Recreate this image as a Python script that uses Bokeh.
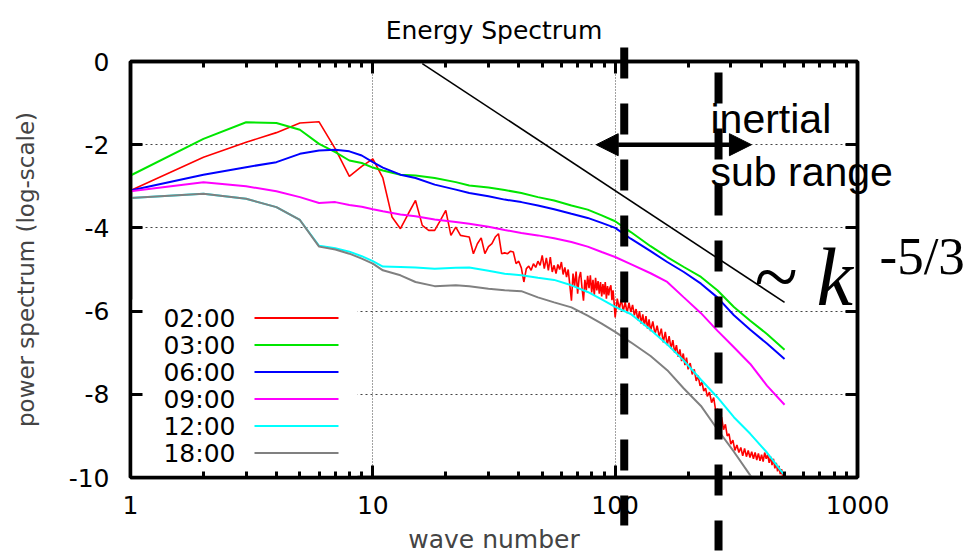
from bokeh.plotting import figure
from bokeh.models import (Range1d, LogAxis, LinearAxis, FixedTicker, LogTicker, Label,
                          Arrow, NormalHead, BoxAnnotation, BasicTickFormatter)
from bokeh.core.properties import value
from bokeh.embed import file_html
from bokeh.resources import INLINE

# ---------------- data ----------------
wave_k = [1, 2, 3, 4, 5, 6, 7, 8, 9, 10, 11, 13, 15, 18, 22, 25, 30, 35, 41, 48, 56, 66,
          77, 88, 100, 116, 140, 164, 192, 226, 264, 309, 361, 423, 500]

spec_0300 = [-2.74, -1.86, -1.46, -1.48, -1.64, -1.98, -2.18, -2.38, -2.44, -2.55, -2.62,
             -2.72, -2.74, -2.80, -2.90, -2.98, -3.03, -3.09, -3.16, -3.26, -3.34, -3.46,
             -3.56, -3.70, -3.84, -4.10, -4.44, -4.70, -4.94, -5.18, -5.50, -5.90, -6.23,
             -6.55, -6.93]
spec_0600 = [-3.10, -2.72, -2.54, -2.42, -2.22, -2.14, -2.12, -2.16, -2.26, -2.42, -2.55,
             -2.72, -2.80, -2.96, -3.08, -3.16, -3.24, -3.32, -3.38, -3.46, -3.55, -3.66,
             -3.76, -3.88, -4.00, -4.26, -4.56, -4.82, -5.06, -5.34, -5.67, -6.10, -6.45,
             -6.78, -7.15]
spec_0900 = [-3.12, -2.90, -3.00, -3.12, -3.26, -3.40, -3.38, -3.45, -3.49, -3.55, -3.60,
             -3.68, -3.72, -3.80, -3.86, -3.90, -3.97, -4.05, -4.12, -4.18, -4.25, -4.34,
             -4.45, -4.58, -4.70, -4.87, -5.09, -5.30, -5.67, -6.05, -6.47, -6.87, -7.27,
             -7.79, -8.25]
spec_1200 = [-3.28, -3.18, -3.30, -3.50, -3.81, -4.43, -4.49, -4.57, -4.68, -4.80, -4.93,
             -4.94, -4.95, -4.98, -4.96, -4.95, -5.03, -5.10, -5.14, -5.20, -5.25, -5.38,
             -5.54, -5.72, -5.90, -6.07, -6.45, -6.80, -7.19, -7.65, -8.07, -8.55, -8.95,
             -9.40, -9.95]
spec_1800 = [-3.28, -3.18, -3.30, -3.50, -3.81, -4.45, -4.52, -4.62, -4.74, -4.86, -5.02,
             -5.14, -5.30, -5.40, -5.38, -5.40, -5.46, -5.50, -5.52, -5.67, -5.79, -5.91,
             -6.11, -6.30, -6.50, -6.75, -7.08, -7.42, -7.86, -8.28, -8.84, -9.38, -9.95,
             -10.5, -11.0]

red_k = [1, 2, 3, 4, 5, 6, 7, 8, 9, 10, 11, 12, 13, 14, 15, 16, 17, 18, 19, 20, 21, 22, 23,
         24, 25, 26, 27, 28, 29, 30, 31, 32, 33, 34, 35, 36, 37, 38, 39, 40, 41, 42, 43, 44,
         45, 46, 47, 48, 49, 50, 51, 52, 53, 54, 55, 56, 57, 58, 59, 60, 61, 62, 63, 64, 66,
         67, 68, 69, 70, 71, 72, 73, 74, 75, 76, 77, 78, 79, 80, 81, 82, 83, 84, 85, 86, 87,
         88, 89, 90, 91, 92, 93, 94, 95, 96, 97, 98, 99, 100, 102, 104, 106, 108, 110, 112,
         114, 116, 118, 120, 122, 124, 126, 128, 130, 132, 134, 136, 138, 140, 143, 146, 149,
         152, 155, 158, 161, 164, 167, 170, 173, 176, 179, 182, 185, 188, 191, 194, 197, 200,
         204, 208, 212, 216, 220, 224, 228, 232, 236, 240, 245, 250, 255, 260, 265, 270, 275,
         280, 285, 290, 295, 300, 306, 312, 318, 324, 330, 336, 342, 348, 354, 360, 366, 372,
         378, 384, 390, 396, 402, 408, 414, 420, 426, 432, 438, 444, 450, 456, 462, 468, 474,
         480, 486, 492, 500]
spec_0200 = [-3.10, -2.30, -1.94, -1.71, -1.48, -1.45, -2.10, -2.76, -2.52, -2.34, -2.80,
             -3.74, -4.02, -3.66, -3.34, -3.94, -4.06, -4.06, -3.82, -3.58, -4.18, -3.98,
             -4.18, -4.20, -4.22, -4.62, -4.38, -4.24, -4.62, -4.45, -4.38, -4.22, -4.14,
             -4.62, -4.60, -4.62, -4.56, -4.58, -4.86, -4.80, -4.96, -5.30, -4.98, -4.92,
             -5.02, -4.86, -4.95, -4.80, -4.90, -4.66, -4.98, -4.72, -5.02, -4.70, -5.06,
             -4.90, -5.10, -4.88, -5.00, -4.82, -5.12, -4.95, -5.18, -5.00, -5.75, -5.10,
             -5.40, -5.05, -5.58, -5.20, -5.06, -5.45, -5.75, -5.25, -5.50, -5.15, -5.45,
             -5.14, -5.55, -5.25, -5.62, -5.20, -5.50, -5.28, -5.58, -5.30, -5.65, -5.35,
             -5.60, -5.30, -5.70, -5.40, -5.62, -5.45, -5.38, -5.74, -5.50, -5.80, -6.15,
             -5.70, -5.95, -5.72, -6.00, -5.78, -6.05, -5.80, -6.02, -5.85, -6.10, -5.95,
             -6.22, -6.00, -6.30, -6.08, -6.35, -6.12, -6.42, -6.20, -6.48, -6.25, -6.55,
             -6.35, -6.62, -6.42, -6.75, -6.50, -6.82, -6.60, -6.90, -6.70, -7.00, -6.82,
             -7.10, -6.92, -7.20, -7.02, -7.30, -7.12, -7.40, -7.25, -7.52, -7.40, -7.68,
             -7.55, -7.80, -7.70, -7.92, -7.85, -8.05, -7.95, -8.20, -8.08, -8.40, -8.35,
             -8.62, -8.55, -8.85, -8.72, -9.00, -8.95, -9.20, -9.10, -9.35, -9.22, -9.40,
             -9.28, -9.48, -9.30, -9.50, -9.35, -9.52, -9.38, -9.55, -9.40, -9.58, -9.42,
             -9.60, -9.45, -9.62, -9.40, -9.55, -9.45, -9.65, -9.50, -9.70, -9.55, -9.78,
             -9.65, -9.85, -9.72, -9.92, -9.80, -10.0, -9.95]

ref_k = [16, 500]            # k^(-5/3) guide line
ref_v = [-0.05, -5.79]

series_labels = ["02:00", "03:00", "06:00", "09:00", "12:00", "18:00"]
series_colors = ["#ff0000", "#00e600", "#0000ff", "#ff00ff", "#00ffff", "#808080"]

y_ticks = [-10, -8, -6, -4, -2, 0]
y_tick_labels = ["-10", "-8", "-6", "-4", "-2", "0"]

subrange_bounds = [109, 267]     # vertical dashed lines (wave number)
subrange_arrow = [83.5, 365]     # double arrow extent (wave number)
arrow_level = -2

# ---------------- layout helpers (canvas px -> data coords for annotations) ----------
FL, FR, FT, FB = 130, 857, 61, 477


def kx(px):
    return 10 ** ((px - FL) / ((FR - FL) / 3.0))


def vy(py):
    return -(py - FT) / ((FB - FT) / 10.0)


FONT = "DejaVu Sans"
SANS = "Liberation Sans"
SERIF = "Liberation Serif"

p = figure(width=973, height=557, x_axis_type="log", title=None,
           x_range=Range1d(1, 1000), y_range=Range1d(-10, 0),
           output_backend="svg", toolbar_location=None,
           min_border_left=FL, min_border_right=973 - FR, min_border_top=FT,
           min_border_bottom=557 - FB)


def style_axis(ax, show_labels, standoff=19):
    ax.axis_line_width = 3.5
    ax.axis_line_color = "black"
    ax.major_tick_in = 12
    ax.major_tick_out = 0
    ax.minor_tick_in = 6
    ax.minor_tick_out = 0
    ax.major_tick_line_width = 3
    ax.minor_tick_line_width = 3
    ax.major_tick_line_color = "black"
    ax.minor_tick_line_color = "black"
    if show_labels:
        ax.major_label_text_font = FONT
        ax.major_label_text_font_size = "25px"
        ax.major_label_text_color = "black"
        ax.major_label_standoff = standoff
    else:
        ax.major_label_text_font_size = "1px"
        ax.major_label_text_alpha = 0
        ax.major_label_standoff = 0


xa = p.xaxis[0]
xa.ticker = LogTicker(num_minor_ticks=10)
xa.formatter = BasicTickFormatter()
style_axis(xa, True, standoff=18)
xa.axis_label = "wave number"
xa.axis_label_text_font = FONT
xa.axis_label_text_font_size = "25px"
xa.axis_label_text_font_style = "normal"
xa.axis_label_standoff = 8

ya = p.yaxis[0]
ya.ticker = FixedTicker(ticks=y_ticks, minor_ticks=[])
ya.major_label_overrides = {t: s for t, s in zip(y_ticks, y_tick_labels)}
style_axis(ya, True, standoff=21)
ya.axis_label = "power spectrum (log-scale)"
ya.axis_label_text_font = FONT
ya.axis_label_text_font_size = "23px"
ya.axis_label_text_font_style = "normal"
ya.axis_label_standoff = 27

top = LogAxis(ticker=LogTicker(num_minor_ticks=10))
style_axis(top, False)
p.add_layout(top, "above")
right = LinearAxis(ticker=FixedTicker(ticks=y_ticks, minor_ticks=[]))
style_axis(right, False)
p.add_layout(right, "right")

p.outline_line_color = "black"
p.outline_line_width = 3.5

p.xgrid.grid_line_color = "#444444"
p.xgrid.grid_line_dash = "1 2"
p.xgrid.grid_line_width = 1
p.xgrid.minor_grid_line_color = None
p.ygrid.grid_line_color = "#444444"
p.ygrid.grid_line_dash = "2 3"
p.ygrid.grid_line_width = 1.2
p.ygrid.ticker = FixedTicker(ticks=y_ticks)

# white key box
p.add_layout(BoxAnnotation(left=1, right=kx(357), bottom=-10, top=vy(299),
                           fill_color="white", fill_alpha=1, line_color=None,
                           level="underlay"))

# ---------------- curves ----------------
series = [(red_k, spec_0200), (wave_k, spec_0300), (wave_k, spec_0600),
          (wave_k, spec_0900), (wave_k, spec_1200), (wave_k, spec_1800)]
for (kk, vv), col in zip(series, series_colors):
    lw = 1.6 if col == "#ff0000" else 2
    p.line(kk, vv, line_color=col, line_width=lw)

p.line(ref_k, ref_v, line_color="black", line_width=1.6)

# ---------------- title (placed above the frame) ----------------
p.text(x=[kx((FL + FR) / 2)], y=[vy(30)], text=["Energy Spectrum"],
       text_font=value(FONT), text_font_size="25px", text_align="center",
       text_baseline="alphabetic", text_color="black", level="overlay")

# ---------------- inertial sub range annotations ----------------
for kb, (ptop, pbot) in zip(subrange_bounds, [(47, 525), (72, 550)]):
    p.line([kb, kb], [vy(ptop), vy(pbot)], line_width=8, line_color="black",
           line_dash="31 25", level="overlay")

p.add_layout(Arrow(x_start=subrange_arrow[0], y_start=arrow_level,
                   x_end=subrange_arrow[1], y_end=arrow_level,
                   start=NormalHead(size=22, fill_color="black", line_color="black"),
                   end=NormalHead(size=22, fill_color="black", line_color="black"),
                   line_width=4.5, line_color="black"))

p.add_layout(Label(x=710 - FL, y=FB - 118, x_units="screen", y_units="screen",
                   text="inertial", text_font=SANS, text_font_size="41px",
                   text_baseline="alphabetic", text_color="black"))
p.text(x=[kx(710)], y=[vy(171)], text=["sub range"], text_font=value(SANS),
       text_font_size="41px", text_baseline="alphabetic", text_align="left",
       text_color="black", level="overlay")
p.add_layout(Label(x=754 - FL, y=FB - 276, x_units="screen", y_units="screen",
                   text="~", text_font=SERIF, text_font_size="80px",
                   text_baseline="alphabetic", text_color="black"))
p.add_layout(Label(x=816 - FL, y=FB - 277, x_units="screen", y_units="screen",
                   text="k", text_font=SERIF, text_font_size="82px",
                   text_font_style="italic", text_baseline="alphabetic",
                   text_color="black"))
p.text(x=[kx(879)], y=[vy(255)], text=["-5/3"], text_font=value(SERIF),
       text_font_size="53px", text_baseline="alphabetic", text_align="left",
       text_color="black", level="overlay")

# ---------------- key: text on the left, line sample on the right ----------------
for i, (lab, col) in enumerate(zip(series_labels, series_colors)):
    yrow = (FB - 317.5) - 27 * i
    p.add_layout(Label(x=235 - FL, y=yrow, x_units="screen", y_units="screen",
                       text=lab, text_align="right", text_baseline="middle",
                       text_font=FONT, text_font_size="25px", text_color="black"))
    p.add_layout(Arrow(x_start=254 - FL, y_start=yrow, x_end=338 - FL, y_end=yrow,
                       start_units="screen", end_units="screen",
                       start=None, end=None, line_color=col, line_width=2))

open("out.html", "w").write(file_html(p, INLINE))
